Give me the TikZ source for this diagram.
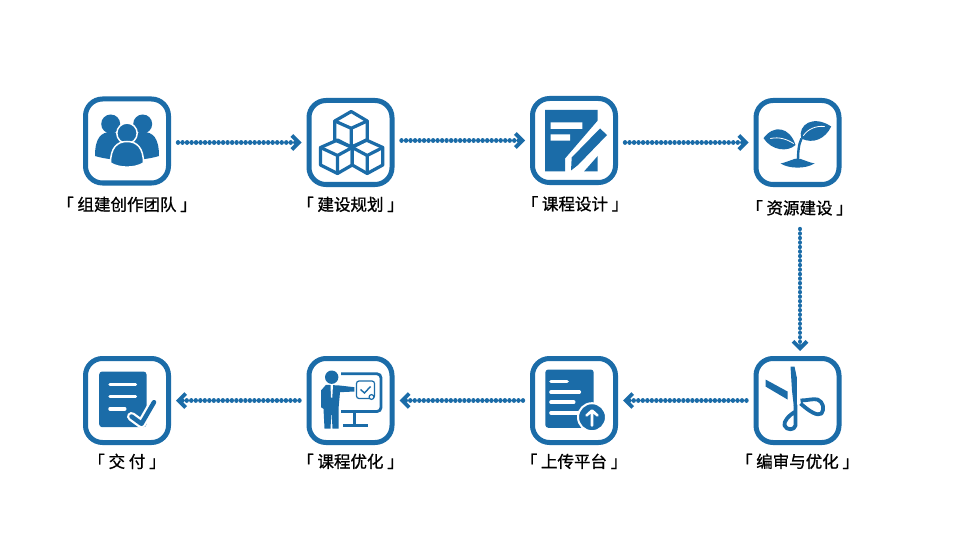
\documentclass[tikz,border=0pt]{standalone}
\usepackage{fontspec}
\setmainfont[FakeBold=1]{Noto Sans CJK SC}
\usepackage{xcolor}
\usetikzlibrary{arrows.meta, positioning}
\definecolor{tileblue}{HTML}{1B6CA8}

\begin{document}
\begin{tikzpicture}[
  x=1pt, y=-1pt,
  font=\fontsize{16.5pt}{18pt}\selectfont,
  node distance=135.5pt,
  tile/.style={rectangle, rounded corners=17pt, draw=tileblue, line width=5pt, minimum width=83pt, minimum height=84pt, inner sep=0pt},
  tag/.style={inner sep=0pt, text=black},
  flow/.style={draw=tileblue, line width=4.4pt, line cap=round, dash pattern=on 0.01pt off 4.5pt, shorten <=7pt, shorten >=5pt,
    -{Rectangle[length=0.01pt, width=0.01pt, sep=2pt] Straight Barb[length=7pt, width=14pt, line width=3.8pt]}},
  glyph/.style={fill=tileblue, draw=none},
  outline/.style={draw=tileblue, fill=none, line width=3.2pt, line join=round, line cap=round},
  cutout/.style={draw=white, fill=none, line cap=round, line join=round}
]
  \useasboundingbox [fill=white] (0,0) rectangle (960,540);

  \node [tile] (crew) at (127,141) {};
  \node [tile] (plan) [right=of crew, yshift=-1.5pt] {};
  \node [tile] (design) [right=of plan, yshift=2pt] {};
  \node [tile] (res) [right=of design, yshift=-2pt] {};
  \node [tile] (cut) [below=169pt of res] {};
  \node [tile] (upload) [left=of cut] {};
  \node [tile] (tune) [left=of upload] {};
  \node [tile] (deliver) [left=of tune] {};

  \node [tag] (crewtag) [below=11pt of crew] {「 组建创作团队 」};
  \node [tag] (plantag) [below=9.5pt of plan] {「 建设规划 」};
  \node [tag] (designtag) [below=11pt of design, xshift=1pt] {「 课程设计 」};
  \node [tag] (restag) [below=13pt of res, xshift=2pt] {「 资源建设 」};
  \node [tag] (cuttag) [below=8.5pt of cut] {「 编审与优化 」};
  \node [tag] (uploadtag) [below=8.5pt of upload] {「 上传平台 」};
  \node [tag] (tunetag) [below=8.5pt of tune] {「 课程优化 」};
  \node [tag] (delivertag) [below=8.5pt of deliver] {「 交 付 」};

  \coordinate (resfoot) at (800,222);
  \draw [flow] (crew.east |- plan.west) -- (plan.west);
  \draw [flow] (plan.east |- design.west) -- (design.west);
  \draw [flow] (design.east |- res.west) -- (res.west);
  \draw [flow] (resfoot) -- (resfoot |- cut.north);
  \draw [flow] (cut.west) -- (upload.east);
  \draw [flow] (upload.west) -- (tune.east);
  \draw [flow] (tune.west) -- (deliver.east);

  \begin{scope}[shift={(crew)}]
    \fill [glyph] (-16.3,-17) circle (9.5) (15.7,-17) circle (9.5);
    \fill [glyph] (-32,15) .. controls (-32,-3) and (-26,-9) .. (-16,-9) .. controls (-6,-9) and (0,-3) .. (0,19) .. controls (-12,19) and (-22,18) .. cycle;
    \fill [glyph] (32,15) .. controls (32,-3) and (26,-9) .. (16,-9) .. controls (6,-9) and (0,-3) .. (0,19) .. controls (12,19) and (22,18) .. cycle;
    \filldraw [glyph, draw=white, line width=1.5pt] (0,-7.7) circle (10.2);
    \filldraw [glyph, draw=white, line width=1.5pt] (-16.5,22) .. controls (-16.5,7) and (-10,0.5) .. (0,0.5) .. controls (10,0.5) and (16.5,7) .. (16.5,22) .. controls (8,27.5) and (-8,27.5) .. cycle;
  \end{scope}

  \begin{scope}[shift={(plan)}]
    \draw [outline] (0.7,-31) -- (16.7,-21.5) -- (16.7,-2.5) -- (0.7,4.5) -- (-15.7,-2.5) -- (-15.7,-21.5) -- cycle;
    \draw [outline] (-15.7,-21.5) -- (0.7,-14.2) -- (16.7,-21.5) (0.7,-14.2) -- (0.7,4.5);
    \draw [outline] (-13,-2.5) -- (-30,5) -- (-30,22.5) -- (-13,31) -- (1.7,22.5) -- (1.7,5) -- cycle;
    \draw [outline] (-30,5) -- (-13,13) -- (1.7,5) (-13,13) -- (-13,31);
    \draw [outline] (15.7,-2.5) -- (32.3,5) -- (32.3,22.5) -- (16.7,31) -- (1.7,22.5) -- (1.7,5) -- cycle;
    \draw [outline] (1.7,5) -- (16.7,13) -- (32.3,5) (16.7,13) -- (16.7,31);
  \end{scope}

  \begin{scope}[shift={(design)}]
    \fill [glyph] (-29,-30.5) -- (23.7,-30.5) -- (23.7,-20) -- (-9,18) -- (-9,31) -- (-29,31) -- cycle;
    \fill [glyph] (10,31) -- (23.7,31) -- (23.7,15.5) -- cycle;
    \fill [glyph] (26,-12) -- (33,-5.5) -- (4,24.5) -- (-3,30) -- (-2.3,17) -- cycle;
    \fill [white] (-23.3,-18.2) rectangle (8.3,-11.5) (-23.3,-6.2) rectangle (-4,0.2);
  \end{scope}

  \begin{scope}[shift={(res)}]
    \fill [glyph] (-34,-4.3) .. controls (-24,-18) and (-8,-16) .. (-2,2.5) .. controls (-10,10) and (-26,8) .. cycle;
    \fill [glyph] (3.7,-4) .. controls (0,-18) and (16,-28) .. (33.7,-16) .. controls (28,-4) and (16,2) .. cycle;
    \draw [cutout, line width=0.8pt] (-27,-4) .. controls (-18,-6) and (-10,-3) .. (-4,1);
    \draw [cutout, line width=0.8pt] (6,-7) .. controls (10,-13) and (18,-17) .. (27,-16);
    \draw [tileblue, line width=2.4pt] (4,-4) .. controls (1,2) and (0.5,10) .. (0.5,19);
    \fill [glyph] (-17,21) .. controls (-8,19) and (-4,16) .. (0,16) .. controls (4,16) and (8,19) .. (17,21) .. controls (8,26.5) and (-8,26.5) .. cycle;
  \end{scope}

  \begin{scope}[shift={(cut)}]
    \fill [glyph] (-7,-34) -- (-3,-34) -- (-0.7,-23) -- (-0.7,5) -- (-3.8,5) -- (-5.5,-10) -- cycle;
    \fill [glyph] (-32,-21) -- (-10,-9) -- (-10,-1) -- (-32,-14) -- cycle;
    \draw [tileblue, line width=3.8pt, line join=round] (-2,11) .. controls (-9,15) and (-14,21) .. (-13,25) .. controls (-11,30) and (-3,30) .. (-2,25) -- (-2,4);
    \draw [tileblue, line width=3.8pt, line join=round] (3,0) .. controls (10,0) and (15,-2) .. (20,-1) .. controls (26,1) and (27,9) .. (24,13) .. controls (20,16) and (12,11) .. (3,3);
  \end{scope}

  \begin{scope}[shift={(upload)}]
    \fill [glyph, rounded corners=3pt] (-28.7,-31) rectangle (19.7,27.3);
    \draw [cutout, line width=3.6pt] (-23,-19) -- (-7,-19) (-23,-8.3) -- (5.3,-8.3) (-23,1.7) -- (-0.3,1.7) (-23,12.3) -- (5,12.3);
    \filldraw [glyph, draw=white, line width=2pt] (18,16.7) circle (14);
    \draw [cutout, line width=2.6pt] (18,25) -- (18,12) (12.5,15) -- (18,10) -- (23.5,15);
  \end{scope}

  \begin{scope}[shift={(tune)}]
    \fill [glyph] (-18.8,-23.3) circle (6.7);
    \fill [glyph] (-29.5,-10) -- (-24.5,-15.7) -- (-11,-15) -- (3.8,-13.3) -- (3.8,-9) -- (-10.5,-8.3) -- (-12,8.3) -- (-12,28) -- (-18,28) -- (-19,10) -- (-20,28) -- (-26,28) -- (-27,8.3) -- (-29.5,6.7) -- cycle;
    \fill [white] (-20,-15.7) -- (-17.5,-15.7) -- (-18.2,-3) -- (-19.5,-3) -- cycle;
    \draw [tileblue, line width=2.8pt, rounded corners=4pt] (-9.5,-26.7) -- (30.5,-26.7) -- (30.5,11) -- (-9.5,11);
    \draw [tileblue, line width=2.6pt] (4,11) -- (4,25) (-7.5,25) -- (17.5,25);
    \draw [tileblue, line width=1.2pt, rounded corners=2.5pt] (6,-19.5) rectangle (24,-2);
    \draw [tileblue, line width=1.4pt] (10,-11) -- (14,-7.5) -- (20,-14);
    \draw [tileblue, fill=white, line width=1.2pt] (21,-3.5) circle (2.4);
  \end{scope}

  \begin{scope}[shift={(deliver)}]
    \fill [glyph, rounded corners=3pt] (-27.8,-29) rectangle (19.5,26.7);
    \draw [cutout, line width=3.4pt] (-17,-16) -- (8.5,-16) (-17,-4) -- (8.5,-4) (-17,8.3) -- (-2.2,8.3);
    \draw [cutout, line width=9pt] (4.5,16) -- (14.5,23.3) -- (27,1.7);
    \draw [tileblue, line width=4.5pt, line cap=round, line join=round] (4.5,16) -- (14.5,23.3) -- (27,1.7);
  \end{scope}
\end{tikzpicture}
\end{document}
